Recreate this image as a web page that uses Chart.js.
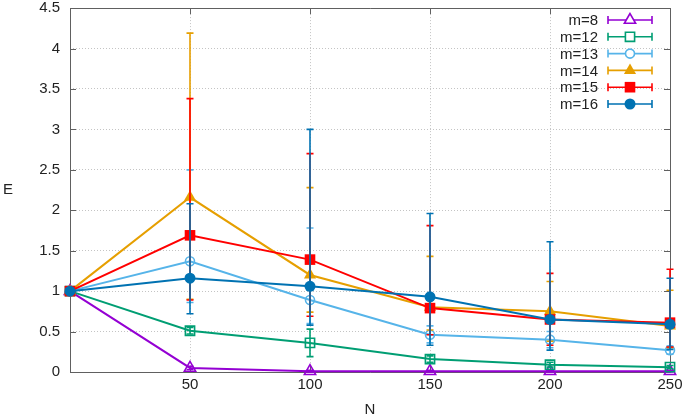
<!DOCTYPE html>
<html>
<head>
<meta charset="utf-8">
<script src="https://cdn.jsdelivr.net/npm/chart.js@4/dist/chart.umd.min.js"></script>
<style>
html,body{margin:0;padding:0;background:#fff;}
#wrap{width:685px;height:420px;position:relative;}
</style>
</head>
<body>
<div id="wrap"><canvas id="c" width="685" height="420"></canvas></div>
<script>
// ---- data ----
const N = [0, 50, 100, 150, 200, 250];
const labels = ['m=8', 'm=12', 'm=13', 'm=14', 'm=15', 'm=16'];
const m8     = [1, 0.05, 0.01, 0.01, 0.01, 0.01];
const m8Low  = [1, 0.03, 0.00, 0.00, 0.00, 0.00];
const m8High = [1, 0.07, 0.02, 0.02, 0.02, 0.02];
const m12     = [1, 0.51, 0.36, 0.16, 0.09, 0.06];
const m12Low  = [1, 0.47, 0.19, 0.12, 0.06, 0.04];
const m12High = [1, 0.55, 0.53, 0.20, 0.12, 0.08];
const m13     = [1, 1.37, 0.89, 0.46, 0.40, 0.27];
const m13Low  = [1, 0.86, 0.60, 0.36, 0.30, 0.22];
const m13High = [1, 2.50, 1.78, 0.57, 0.50, 0.32];
const m14     = [1, 2.16, 1.20, 0.80, 0.75, 0.57];
const m14Low  = [1, 0.90, 0.74, 0.52, 0.38, 0.30];
const m14High = [1, 4.19, 2.28, 1.43, 1.12, 1.01];
const m15     = [1, 1.69, 1.39, 0.79, 0.65, 0.61];
const m15Low  = [1, 0.89, 0.69, 0.46, 0.33, 0.31];
const m15High = [1, 3.38, 2.70, 1.81, 1.22, 1.27];
const m16     = [1, 1.16, 1.06, 0.93, 0.65, 0.59];
const m16Low  = [1, 0.72, 0.58, 0.33, 0.27, 0.28];
const m16High = [1, 2.08, 3.00, 1.96, 1.61, 1.16];
const yTicks = [0, 0.5, 1, 1.5, 2, 2.5, 3, 3.5, 4, 4.5];
const xTicks = [50, 100, 150, 200, 250];

const series = [m8, m12, m13, m14, m15, m16];
const lows = [m8Low, m12Low, m13Low, m14Low, m15Low, m16Low];
const highs = [m8High, m12High, m13High, m14High, m15High, m16High];
const colors = ['#9400d3', '#009e73', '#56b4e9', '#e69f00', '#ff0000', '#0072b2'];
const styles = [
  {ps:'triangle', r:6.5, fill:false},
  {ps:'rect', r:6.5, fill:false},
  {ps:'circle', r:4.5, fill:false},
  {ps:'triangle', r:7, fill:true},
  {ps:'rect', r:7.5, fill:true},
  {ps:'circle', r:5.5, fill:true}
];
const FONT = '"Liberation Sans", Arial, sans-serif';

const datasets = series.map((s, i) => ({
  label: labels[i],
  data: N.map((n, j) => ({x: n, y: s[j]})),
  borderColor: colors[i],
  backgroundColor: styles[i].fill ? colors[i] : '#ffffff00',
  pointBackgroundColor: styles[i].fill ? colors[i] : 'rgba(0,0,0,0)',
  pointBorderColor: colors[i],
  pointBorderWidth: styles[i].fill ? 0 : 1.6,
  pointStyle: styles[i].ps,
  pointRadius: styles[i].r,
  borderWidth: 2,
  tension: 0,
  clip: false,
  order: series.length - 1 - i,
  lows: lows[i],
  highs: highs[i]
}));

const errPlugin = {
  id: 'errbars',
  beforeDatasetDraw(chart, args) {
    const ds = chart.data.datasets[args.index];
    const ctx = chart.ctx, xs = chart.scales.x, ys = chart.scales.y;
    ctx.save();
    ctx.strokeStyle = ds.borderColor;
    ctx.lineWidth = 1.6;
    for (let j = 0; j < N.length; j++) {
      const lo = ds.lows[j], hi = ds.highs[j];
      if (hi - lo <= 0) continue;
      const px = xs.getPixelForValue(N[j]);
      const pl = ys.getPixelForValue(lo), ph = ys.getPixelForValue(hi);
      ctx.beginPath();
      ctx.moveTo(px, pl); ctx.lineTo(px, ph);
      ctx.moveTo(px - 3.5, pl); ctx.lineTo(px + 3.5, pl);
      ctx.moveTo(px - 3.5, ph); ctx.lineTo(px + 3.5, ph);
      ctx.stroke();
    }
    ctx.restore();
  }
};

const framePlugin = {
  id: 'frame',
  beforeDatasetsDraw(chart) {
    const ctx = chart.ctx, a = chart.chartArea, xs = chart.scales.x, ys = chart.scales.y;
    ctx.save();
    ctx.strokeStyle = '#606060';
    ctx.lineWidth = 1;
    ctx.beginPath();
    ctx.rect(Math.round(a.left) + 0.5, Math.round(a.top) + 0.5, Math.round(a.right - a.left), Math.round(a.bottom - a.top));
    for (const v of yTicks) {
      const py = Math.round(ys.getPixelForValue(v)) + 0.5;
      ctx.moveTo(a.left, py); ctx.lineTo(a.left + 6, py);
      ctx.moveTo(a.right, py); ctx.lineTo(a.right - 6, py);
    }
    for (const v of xTicks) {
      const px = Math.round(xs.getPixelForValue(v)) + 0.5;
      ctx.moveTo(px, a.bottom); ctx.lineTo(px, a.bottom - 6);
      ctx.moveTo(px, a.top); ctx.lineTo(px, a.top + 6);
    }
    ctx.stroke();
    ctx.restore();
  },
  afterDraw(chart) {
    const ctx = chart.ctx;
    ctx.save();
    ctx.fillStyle = '#222';
    ctx.font = '15px ' + FONT;
    ctx.textAlign = 'center';
    ctx.textBaseline = 'middle';
    ctx.fillText('E', 8, 190);
    ctx.fillText('N', 370, 410);
    // legend
    const x0 = 608, x1 = 652, xm = 630, tx = 598;
    for (let i = 0; i < labels.length; i++) {
      const y = 20 + i * 16.8;
      ctx.fillStyle = '#222';
      ctx.textAlign = 'right';
      ctx.fillText(labels[i], tx, y + 1);
      ctx.strokeStyle = colors[i];
      ctx.lineWidth = 1.6;
      ctx.beginPath();
      ctx.moveTo(x0, y); ctx.lineTo(x1, y);
      ctx.moveTo(x0, y - 4); ctx.lineTo(x0, y + 4);
      ctx.moveTo(x1, y - 4); ctx.lineTo(x1, y + 4);
      ctx.stroke();
      const st = styles[i];
      ctx.fillStyle = st.fill ? colors[i] : '#ffffff';
      ctx.strokeStyle = colors[i];
      ctx.lineWidth = 1.6;
      ctx.beginPath();
      const r = st.r;
      if (st.ps === 'circle') {
        ctx.arc(xm, y, r, 0, Math.PI * 2);
      } else if (st.ps === 'rect') {
        const s = r * Math.SQRT1_2;
        ctx.rect(xm - s, y - s, 2 * s, 2 * s);
      } else {
        const h = r * 0.8660254;
        ctx.moveTo(xm, y - r);
        ctx.lineTo(xm - h, y + r / 2);
        ctx.lineTo(xm + h, y + r / 2);
        ctx.closePath();
      }
      ctx.fill();
      if (!st.fill) ctx.stroke();
    }
    ctx.restore();
  }
};

function zeroPad(s) {
  s.paddingTop = 0; s.paddingBottom = 0; s.paddingLeft = 0; s.paddingRight = 0;
}

new Chart(document.getElementById('c'), {
  type: 'line',
  data: {datasets},
  options: {
    responsive: false,
    animation: false,
    devicePixelRatio: 1,
    layout: {padding: {left: 0, right: 15, top: 7, bottom: 0}},
    plugins: {legend: {display: false}, tooltip: {enabled: false}},
    scales: {
      x: {
        type: 'linear', min: 0, max: 250,
        afterBuildTicks(s) { s.ticks = [0, ...xTicks].map(v => ({value: v})); },
        afterFit(s) { s.height = 48; zeroPad(s); },
        ticks: {
          callback: v => (v === 0 ? '' : String(v)),
          color: '#222', font: {family: FONT, size: 15}, padding: 4, maxRotation: 0
        },
        grid: {color: '#c4c4c4', drawTicks: false, lineWidth: 1},
        border: {display: false, dash: [1, 2]}
      },
      y: {
        type: 'linear', min: 0, max: 4.5,
        afterBuildTicks(s) { s.ticks = yTicks.map(v => ({value: v})); },
        afterFit(s) { s.width = 70; zeroPad(s); },
        ticks: {callback: v => String(+v), color: '#222', font: {family: FONT, size: 15}, padding: 10},
        grid: {color: '#c4c4c4', drawTicks: false, lineWidth: 1},
        border: {display: false, dash: [1, 2]}
      }
    }
  },
  plugins: [errPlugin, framePlugin]
});
</script>
</body>
</html>
